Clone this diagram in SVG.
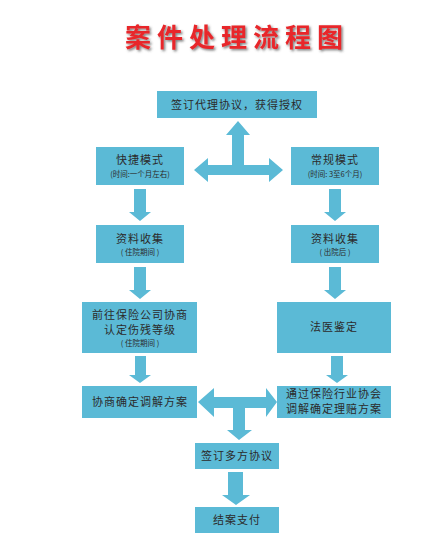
<svg xmlns="http://www.w3.org/2000/svg" width="431" height="558" viewBox="0 0 431 558">
<defs>
<filter id="sh" x="-10%" y="-20%" width="120%" height="150%">
<feDropShadow dx="1.5" dy="1.5" stdDeviation="0.8" flood-color="#444" flood-opacity="0.7"/>
</filter>
<style>
.box{fill:#5bbad6;}
.arr{fill:#5bbad6;}
.t{font-family:"Noto Sans CJK SC","Noto Sans",sans-serif;font-size:11px;fill:#2b2b2b;text-anchor:middle;letter-spacing:1px;}
.s{font-family:"Noto Sans CJK SC","Noto Sans",sans-serif;font-size:7.5px;fill:#2b2b2b;text-anchor:middle;}
.title{font-family:"Noto Sans CJK SC",serif;font-size:26px;font-weight:bold;fill:#e8262a;text-anchor:middle;letter-spacing:6px;}
</style>
</defs>
<rect width="431" height="558" fill="#ffffff"/>
<g id="title">
<text class="title" x="237" y="47" filter="url(#sh)">案件处理流程图</text>
</g>
<g id="connectors">
<polygon class="arr" points="238,121 250,135 244,135 244,165 269,165 269,158 283,170 269,182 269,175 208,175 208,182 194,170 208,158 208,165 232,165 232,135 226,135"/>
<polygon class="arr" points="134,189 146,189 146,212 151,212 140,221 129,212 134,212"/>
<polygon class="arr" points="329,189 341,189 341,212 346,212 335,221 324,212 329,212"/>
<polygon class="arr" points="134,267 146,267 146,290 151,290 140,299 129,290 134,290"/>
<polygon class="arr" points="329,267 341,267 341,290 346,290 335,299 324,290 329,290"/>
<polygon class="arr" points="135,356 146,356 146,375 151,375 140,383 129,375 135,375"/>
<polygon class="arr" points="331,356 343,356 343,375 348,375 337,383 326,375 331,375"/>
<polygon class="arr" points="198,402 214,388 214,397 266,397 266,388 277,402 266,417 266,408 245,408 245,430 252,430 239,440 227,430 233,430 233,408 214,408 214,417"/>
<polygon class="arr" points="228,472 243,472 243,495 250,495 236,505 222,495 228,495"/>
</g>
<g id="n1"><rect class="box" x="157" y="91" width="160" height="27"/><text class="t" x="237" y="109">签订代理协议，获得授权</text></g>
<g id="n2"><rect class="box" x="96" y="147" width="88" height="38"/><text class="t" x="140" y="164">快捷模式</text><text class="s" x="140" y="177">(时间:一个月左右)</text></g>
<g id="n3"><rect class="box" x="291" y="147" width="88" height="38"/><text class="t" x="335" y="164">常规模式</text><text class="s" x="335" y="177">(时间: 3至6个月)</text></g>
<g id="n4"><rect class="box" x="96" y="225" width="88" height="38"/><text class="t" x="140" y="243">资料收集</text><text class="s" x="140" y="255">( 住院期间 )</text></g>
<g id="n5"><rect class="box" x="291" y="225" width="88" height="38"/><text class="t" x="335" y="243">资料收集</text><text class="s" x="335" y="255">( 出院后 )</text></g>
<g id="n6"><rect class="box" x="82" y="302" width="115" height="51"/><text class="t" x="140" y="319">前往保险公司协商</text><text class="t" x="140" y="334">认定伤残等级</text><text class="s" x="140" y="346">( 住院期间 )</text></g>
<g id="n7"><rect class="box" x="277" y="302" width="114" height="51"/><text class="t" x="334" y="331">法医鉴定</text></g>
<g id="n8"><rect class="box" x="82" y="386" width="115" height="32"/><text class="t" x="140" y="406">协商确定调解方案</text></g>
<g id="n9"><rect class="box" x="277" y="386" width="114" height="32"/><text class="t" x="334" y="398">通过保险行业协会</text><text class="t" x="334" y="413">调解确定理赔方案</text></g>
<g id="n10"><rect class="box" x="195" y="443" width="84" height="26"/><text class="t" x="237" y="460">签订多方协议</text></g>
<g id="n11"><rect class="box" x="195" y="507" width="84" height="26"/><text class="t" x="237" y="524">结案支付</text></g>
</svg>
